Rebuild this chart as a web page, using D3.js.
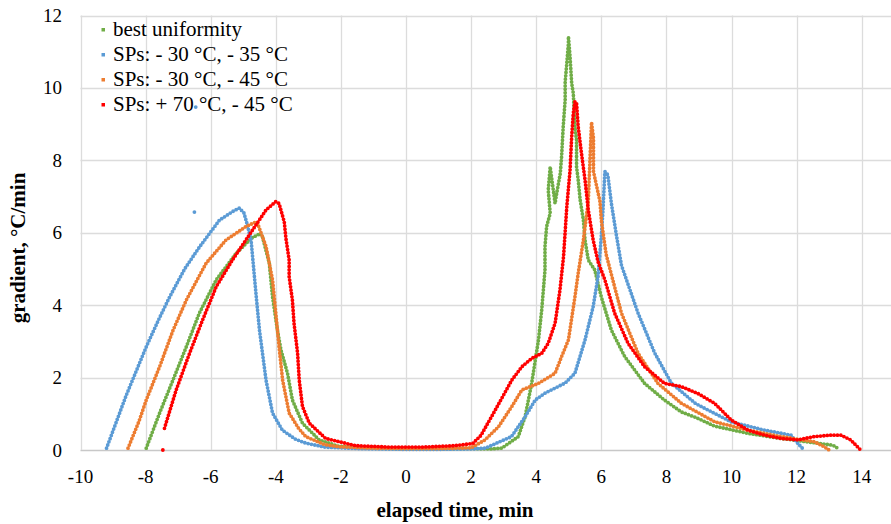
<!DOCTYPE html>
<html>
<head>
<meta charset="utf-8">
<script src="https://cdn.jsdelivr.net/npm/d3@7/dist/d3.min.js"></script>
<style>
  body { margin: 0; background: #fff; }
  svg text { font-family: "Liberation Serif", "Times New Roman", serif; fill: #000; }
</style>
</head>
<body>
<svg id="chart" width="891" height="524"></svg>
<script>
// series: [elapsed time (min), gradient (°C/min)]
var seriesNames = ["best uniformity", "SPs: - 30 °C, - 35 °C", "SPs: - 30 °C, - 45 °C", "SPs: + 70 °C, - 45 °C"]
var seriesColors = ["#70ad47", "#5b9bd5", "#ed7d31", "#ff0000"]

var greenPts = [[-7.98,0.05],[-7.57,1.02],[-7.16,1.93],[-6.75,2.85],[-6.35,3.78],[-5.83,4.7],[-5.22,5.43],[-4.75,5.85],[-4.48,5.98],
  [-4.41,5.89],[-4.2,5.16],[-4.1,4.23],[-3.95,3.31],[-3.84,2.76],[-3.64,2.12],[-3.49,1.38],[-3.18,0.74],[-2.67,0.28],[-2.06,0.1],
  [-1,0.05],[0,0.03],[1,0.03],[2,0.04],[2.6,0.03],[2.94,0.05],[3.45,0.37],[3.66,0.92],[3.86,1.84],[4.07,3.04],[4.17,3.87],[4.27,4.97],
  [4.27,5.62],[4.32,6.17],[4.43,6.54],[4.37,7.18],[4.43,7.82],[4.58,6.81],[4.63,7.09],[4.74,7.64],[4.78,8.1],[4.83,8.93],[4.89,9.67],
  [4.89,10.17],[4.94,10.68],[4.99,11.23],[4.99,11.42],[5.04,10.86],[5.09,10.13],[5.14,9.85],[5.19,8.89],[5.24,8.56],[5.24,8.1],
  [5.24,7.82],[5.29,7.46],[5.35,6.91],[5.45,6.35],[5.5,5.8],[5.6,5.25],[5.8,4.97],[6.0,4.23],[6.31,3.31],[6.72,2.58],[7.33,1.84],
  [7.94,1.38],[8.46,1.05],[8.9,0.9],[9.48,0.66],[10.5,0.46],[11.52,0.32],[12.54,0.2],[13.05,0.14],[13.2,0.1],[13.3,0]]

var bluePts = [[-9.2,0.05],[-8.6,1.5],[-7.98,2.85],[-7.6,3.6],[-7.26,4.23],[-6.8,5.0],[-6.35,5.6],[-5.73,6.35],[-5.3,6.6],[-5.12,6.68],
  [-4.98,6.55],[-4.9,6.3],[-4.76,5.8],[-4.6,4.23],[-4.5,3.3],[-4.3,1.93],[-4.1,1.02],[-3.8,0.55],[-3.4,0.3],[-3.08,0.19],[-2.5,0.08],
  [-1.5,0.04],[0,0.02],[1,0.02],[2,0.03],[2.43,0.05],[3.24,0.37],[3.66,0.92],[3.97,1.38],[4.27,1.57],[4.89,1.85],[5.19,2.12],[5.5,3.04],
  [5.75,3.96],[5.9,4.79],[6.0,5.9],[6.05,6.6],[6.11,7.69],[6.2,7.6],[6.31,6.81],[6.47,5.9],[6.62,5.1],[7.13,3.78],[7.64,2.68],[8.15,1.85],
  [8.9,1.28],[9.98,0.78],[11.0,0.55],[11.83,0.41],[12.03,0.19],[12.23,0]]
var blueStray = [[-6.5,6.57],[-6.46,9.47]]

var orangePts = [[-8.54,0.05],[-8.2,0.8],[-7.98,1.38],[-7.57,2.3],[-7.16,3.3],[-6.75,4.14],[-6.14,5.16],[-5.53,5.8],[-4.92,6.17],
  [-4.61,6.3],[-4.56,6.26],[-4.3,5.62],[-4.1,4.7],[-4.0,3.78],[-3.9,2.85],[-3.79,1.93],[-3.59,1.02],[-3.3,0.6],[-3.08,0.37],[-2.5,0.15],
  [-2.06,0.09],[-1,0.05],[0,0.04],[1,0.04],[2,0.06],[2.43,0.28],[2.84,0.64],[3.25,1.2],[3.56,1.66],[4.07,1.84],[4.58,2.12],[4.78,2.58],
  [4.99,3.04],[5.19,4.23],[5.29,4.88],[5.45,5.8],[5.6,6.86],[5.66,8.2],[5.7,9.05],[5.76,8.61],[5.76,7.69],[5.96,6.86],[6.0,6.35],
  [6.15,5.4],[6.62,3.78],[7.13,2.67],[7.74,1.84],[8.46,1.29],[9.48,0.78],[10.5,0.55],[11.52,0.37],[12.54,0.23],[12.85,0.09],[13.0,0]]

var redPts = [[-7.42,0.6],[-7.06,1.66],[-6.65,2.67],[-6.25,3.59],[-5.83,4.51],[-5.33,5.25],[-4.71,6.08],[-4.3,6.63],[-4.0,6.86],
  [-3.9,6.81],[-3.74,6.3],[-3.69,5.85],[-3.59,5.25],[-3.59,4.79],[-3.49,4.14],[-3.44,3.5],[-3.33,2.67],[-3.28,1.93],[-3.18,1.2],
  [-2.97,0.74],[-2.47,0.32],[-1.55,0.12],[-0.5,0.08],[0.5,0.08],[1.5,0.12],[2.05,0.18],[2.3,0.4],[2.74,1.1],[3.25,1.93],[3.56,2.3],
  [3.86,2.53],[4.17,2.67],[4.37,2.95],[4.58,3.5],[4.73,4.42],[4.84,5.34],[4.94,6.72],[5.04,7.73],[5.09,8.65],[5.14,9.3],[5.19,9.62],
  [5.24,9.58],[5.29,8.93],[5.39,8.2],[5.5,7.46],[5.6,6.63],[5.75,5.8],[5.9,5.2],[6.11,4.7],[6.41,3.78],[6.82,2.95],[7.33,2.3],
  [7.94,1.84],[8.46,1.75],[8.97,1.56],[9.48,1.29],[9.99,0.83],[10.5,0.55],[11.01,0.41],[11.52,0.32],[12.03,0.28],[12.54,0.37],
  [13.05,0.41],[13.36,0.41],[13.66,0.28],[13.87,0.09],[13.97,0]]
var redStray = [[-7.47,0]]

var xTicks = [-10,-8,-6,-4,-2,0,2,4,6,8,10,12,14]
var yTicks = [0,2,4,6,8,10,12]

var svg = d3.select("#chart")
var W = 891, H = 524

var x = d3.scaleLinear().domain([-10, 14]).range([80.5, 861.7])
var y = d3.scaleLinear().domain([0, 12]).range([450, 15.5])

// grid
var grid = svg.append("g")
grid.selectAll(".hg").data(yTicks).enter().append("line")
    .attr("x1", x(-10)).attr("x2", W)
    .attr("y1", function(d){ return Math.round(y(d)) + 0.5 }).attr("y2", function(d){ return Math.round(y(d)) + 0.5 })
    .style("stroke", function(d){ return d == 0 ? "#c8c8c8" : "#dcdcdc" }).style("stroke-width", 1.3)
grid.selectAll(".vg").data(xTicks).enter().append("line")
    .attr("x1", function(d){ return Math.round(x(d)) + 0.5 }).attr("x2", function(d){ return Math.round(x(d)) + 0.5 })
    .attr("y1", y(12)).attr("y2", y(0))
    .style("stroke", "#dcdcdc").style("stroke-width", 1.3)

// tick labels
svg.append("g").selectAll("text").data(yTicks).enter().append("text")
    .attr("x", 62).attr("y", function(d){ return y(d) + 6.5 })
    .attr("text-anchor", "end").style("font-size", "19px")
    .text(function(d){ return d })
svg.append("g").selectAll("text").data(xTicks).enter().append("text")
    .attr("x", function(d){ return x(d) }).attr("y", 483)
    .attr("text-anchor", "middle").style("font-size", "19px")
    .text(function(d){ return d })

// axis titles
svg.append("text").attr("x", 455).attr("y", 517).attr("text-anchor", "middle")
    .style("font-size", "21px").style("font-weight", "bold").text("elapsed time, min")
svg.append("text").attr("transform", "translate(25,248) rotate(-90)").attr("text-anchor", "middle")
    .style("font-size", "21px").style("font-weight", "bold").text("gradient, °C/min")

// series, drawn as dotted traces like the sampled markers
var line = d3.line().x(function(d){ return x(d[0]) }).y(function(d){ return y(d[1]) })
var allSeries = [greenPts, bluePts, orangePts, redPts]
allSeries.forEach(function(pts, i){
    svg.append("path").datum(pts).attr("d", line)
        .style("fill", "none").style("stroke", seriesColors[i])
        .style("stroke-width", 3.8).style("stroke-linecap", "round")
        .style("stroke-dasharray", "0 3.4")
})
var strays = [[blueStray, seriesColors[1]], [redStray, seriesColors[3]]]
strays.forEach(function(s){
    svg.append("g").selectAll("circle").data(s[0]).enter().append("circle")
        .attr("cx", function(d){ return x(d[0]) }).attr("cy", function(d){ return y(d[1]) })
        .attr("r", 1.9).style("fill", s[1])
})

// legend
var legend = svg.append("g")
seriesNames.forEach(function(name, i){
    var by = 36 + i * 25
    legend.append("rect").attr("x", 101.5).attr("y", by - 8).attr("width", 3.5).attr("height", 3.5).style("fill", seriesColors[i])
    legend.append("text").attr("x", 113).attr("y", by).style("font-size", "21px").text(name)
})
</script>
</body>
</html>
